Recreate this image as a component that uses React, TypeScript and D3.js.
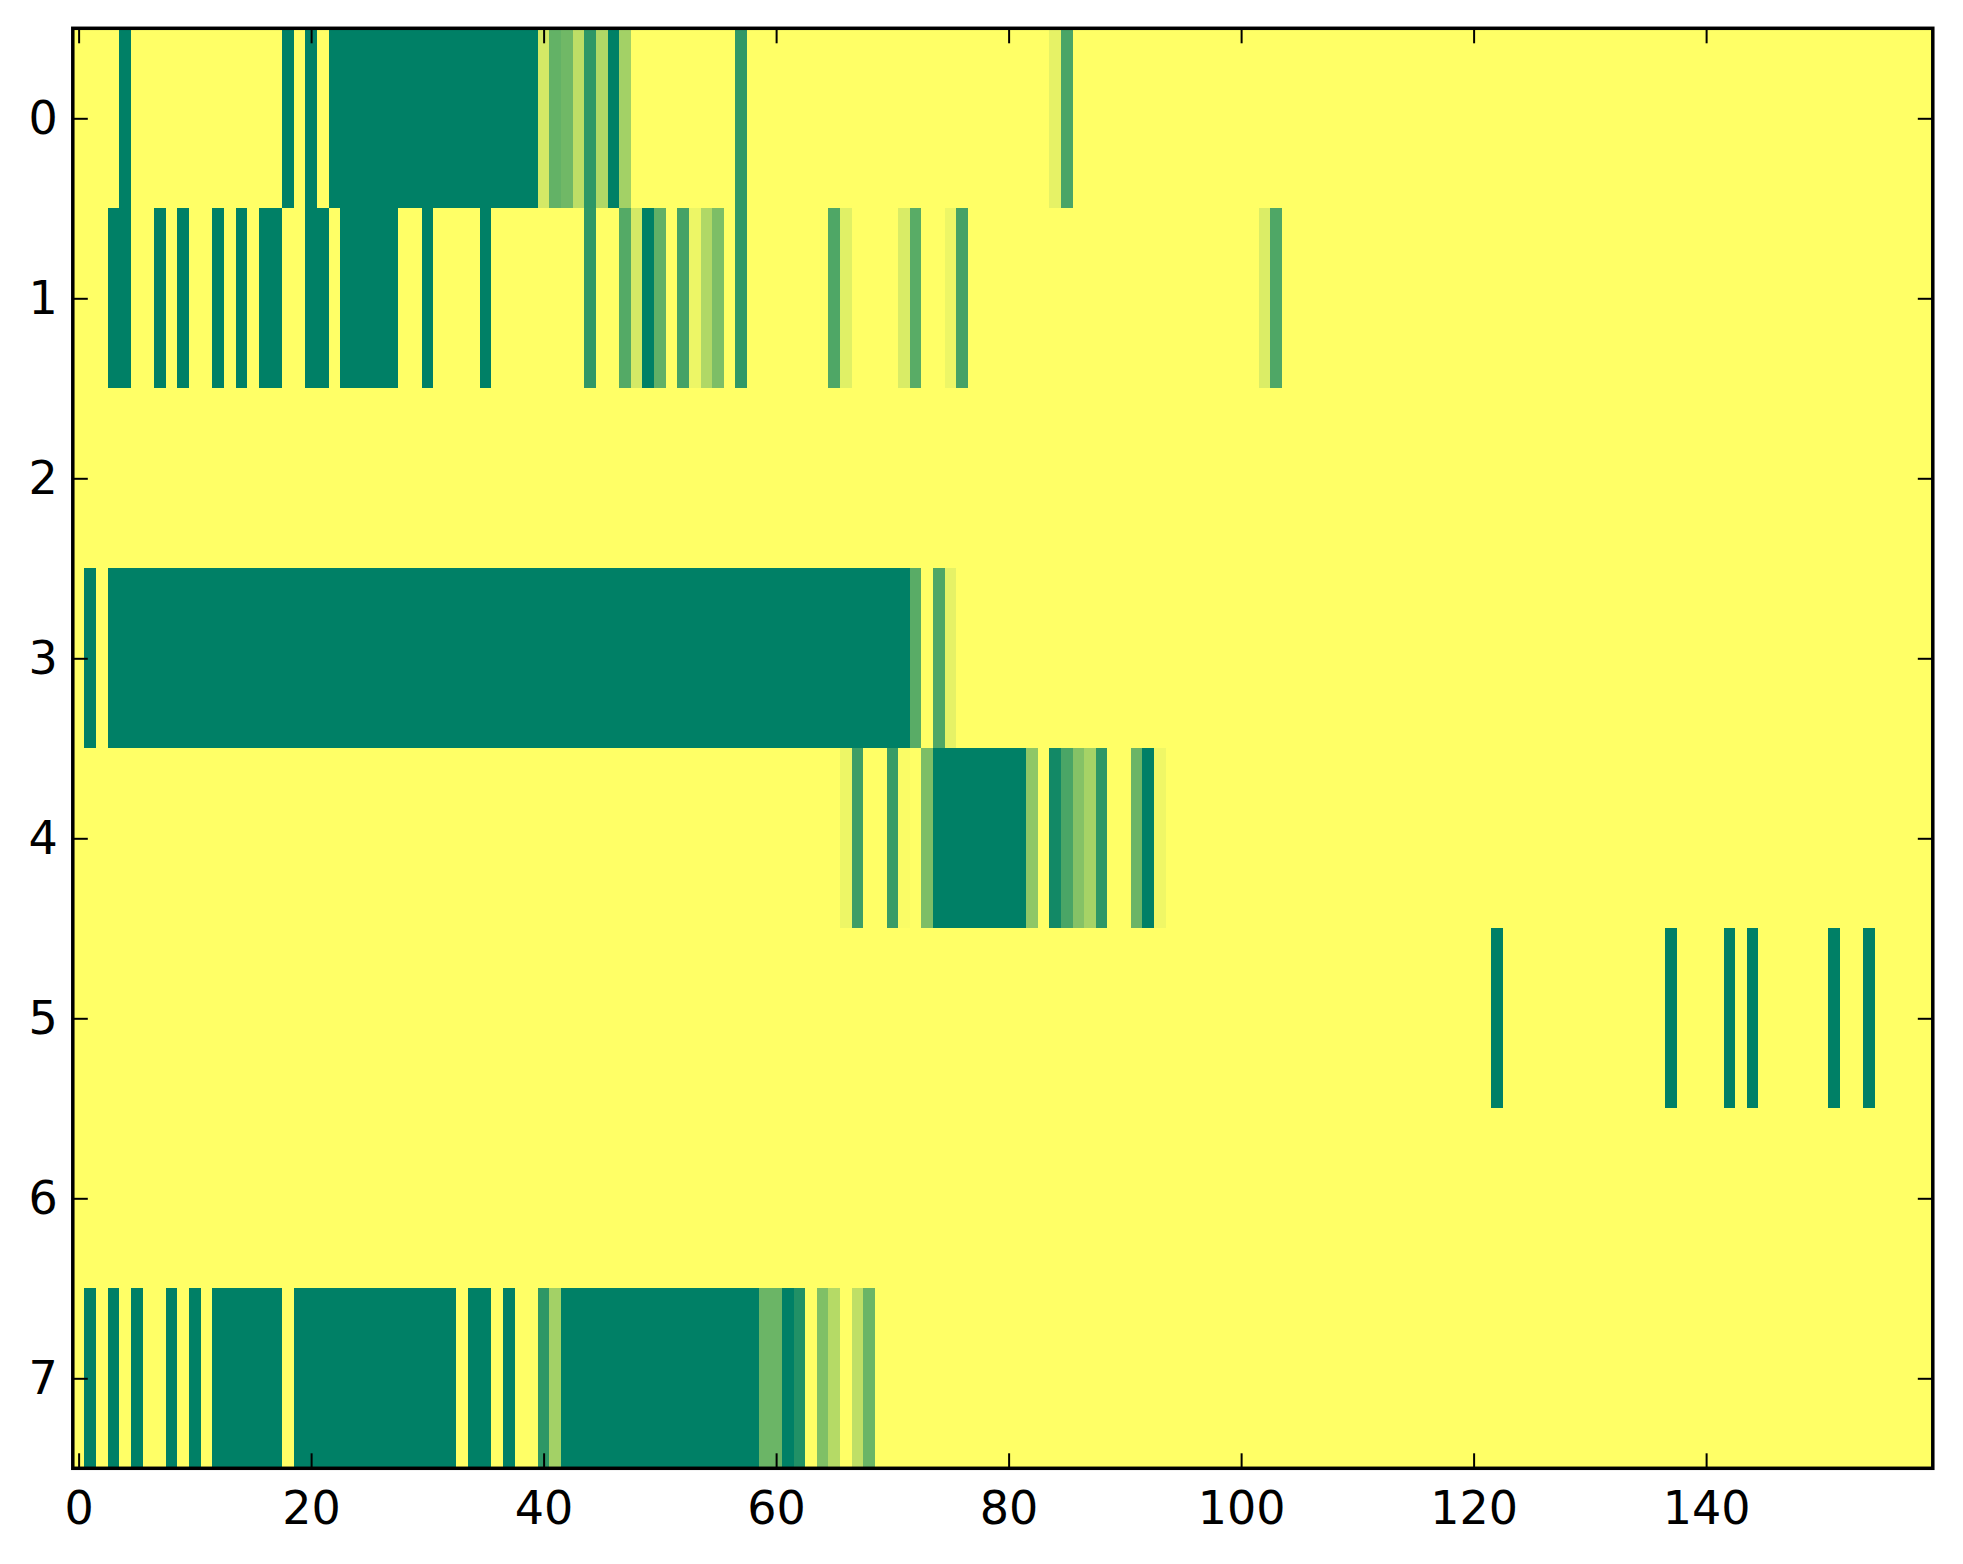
import { FC, useEffect, useRef } from 'react';
import * as d3 from 'd3';

// each row is a list of runs: [firstColumn, lastColumn, value]
const row0 = [
    [0, 3, 1], [4, 4, 0], [5, 17, 1], [18, 18, 0], [19, 19, 1], [20, 20, 0], [21, 21, 1],
    [22, 39, 0], [40, 40, 0.83], [41, 41, 0.39], [42, 42, 0.44], [43, 43, 0.74], [44, 44, 0.18],
    [45, 45, 0.69], [46, 46, 0], [47, 47, 0.64], [48, 56, 1], [57, 57, 0.19], [58, 83, 1],
    [84, 84, 0.9], [85, 85, 0.29], [86, 159, 1]
];
const row1 = [
    [0, 2, 1], [3, 4, 0], [5, 6, 1], [7, 7, 0], [8, 8, 1], [9, 9, 0], [10, 11, 1], [12, 12, 0],
    [13, 13, 1], [14, 14, 0], [15, 15, 1], [16, 17, 0], [18, 19, 1], [20, 21, 0], [22, 22, 1],
    [23, 27, 0], [28, 29, 1], [30, 30, 0], [31, 34, 1], [35, 35, 0], [36, 43, 1], [44, 44, 0.19],
    [45, 46, 1], [47, 47, 0.33], [48, 48, 0.83], [49, 49, 0], [50, 50, 0.38], [51, 51, 1],
    [52, 52, 0.27], [53, 53, 0.93], [54, 54, 0.69], [55, 55, 0.49], [56, 56, 1], [57, 57, 0.19],
    [58, 64, 1], [65, 65, 0.31], [66, 66, 0.88], [67, 70, 1], [71, 71, 0.85], [72, 72, 0.35],
    [73, 74, 1], [75, 75, 0.93], [76, 76, 0.27], [77, 101, 1], [102, 102, 0.86], [103, 103, 0.31],
    [104, 159, 1]
];
const row2 = [[0, 159, 1]];
const row3 = [
    [0, 0, 1], [1, 1, 0], [2, 2, 1], [3, 71, 0], [72, 72, 0.35], [73, 73, 1], [74, 74, 0.31],
    [75, 75, 0.9], [76, 159, 1]
];
const row4 = [
    [0, 65, 1], [66, 66, 0.93], [67, 67, 0.24], [68, 69, 1], [70, 70, 0.22], [71, 71, 0.98],
    [72, 72, 1], [73, 73, 0.49], [74, 81, 0], [82, 82, 0.56], [83, 83, 1], [84, 84, 0.07],
    [85, 85, 0.29], [86, 86, 0.52], [87, 87, 0.65], [88, 88, 0.18], [89, 90, 1], [91, 91, 0.42],
    [92, 92, 0], [93, 93, 0.94], [94, 159, 1]
];
const row5 = [
    [0, 121, 1], [122, 122, 0], [123, 136, 1], [137, 137, 0], [138, 141, 1], [142, 142, 0],
    [143, 143, 1], [144, 144, 0], [145, 150, 1], [151, 151, 0], [152, 153, 1], [154, 154, 0],
    [155, 159, 1]
];
const row6 = [[0, 159, 1]];
const row7 = [
    [0, 0, 1], [1, 1, 0], [2, 2, 1], [3, 3, 0], [4, 4, 1], [5, 5, 0], [6, 7, 1], [8, 8, 0],
    [9, 9, 1], [10, 10, 0], [11, 11, 1], [12, 17, 0], [18, 18, 1], [19, 32, 0], [33, 33, 1],
    [34, 35, 0], [36, 36, 1], [37, 37, 0], [38, 39, 1], [40, 40, 0.18], [41, 41, 0.64],
    [42, 58, 0], [59, 60, 0.42], [61, 61, 0], [62, 62, 0.13], [63, 63, 1], [64, 64, 0.5],
    [65, 65, 0.71], [66, 66, 1], [67, 67, 0.75], [68, 68, 0.42], [69, 159, 1]
];
const rows = [row0, row1, row2, row3, row4, row5, row6, row7];
const nCols = 160;
const xTicks = [0, 20, 40, 60, 80, 100, 120, 140];
const yTicks = [0, 1, 2, 3, 4, 5, 6, 7];

const App: FC = () => {
    const svgRef = useRef<SVGSVGElement>(null);

    useEffect(() => {
        const width = 1963;
        const height = 1564;
        const left = 72.8, right = 1932.8, top = 28.3, bottom = 1468.3;
        const font = "DejaVu Sans";

        const svg = d3.select(svgRef.current)
            .attr("width", width)
            .attr("height", height);
        svg.selectAll("*").remove();

        const x = d3.scaleLinear().domain([-0.5, nCols - 0.5]).range([left, right]);
        const y = d3.scaleLinear().domain([-0.5, rows.length - 0.5]).range([top, bottom]);

        // matplotlib "summer" colormap
        const color = d3.scaleLinear<string>()
            .domain([0, 1])
            .range(["#008066", "#ffff66"])
            .interpolate(d3.interpolateRgb);

        const cells = rows.flatMap((runs, r) =>
            runs.map(([a, b, v]) => ({ row: r, a, b, v })));

        svg.append("g")
            .selectAll("rect")
            .data(cells)
            .enter()
            .append("rect")
            .attr("x", d => x(d.a - 0.5))
            .attr("y", d => y(d.row - 0.5))
            .attr("width", d => x(d.b + 0.5) - x(d.a - 0.5))
            .attr("height", d => y(d.row + 0.5) - y(d.row - 0.5))
            .attr("fill", d => color(d.v))
            .attr("shape-rendering", "crispEdges");

        const tickLen = -15;
        const styleAxis = (g: any) => {
            g.select(".domain").remove();
            g.selectAll("line").attr("stroke", "#000").attr("stroke-width", 2);
            g.selectAll("text").attr("font-family", font).attr("font-size", 46).attr("fill", "#000");
        };

        svg.append("g")
            .attr("transform", `translate(0,${bottom})`)
            .call(d3.axisBottom(x).tickValues(xTicks).tickSize(tickLen).tickPadding(23).tickFormat(d3.format("d")))
            .call(styleAxis);
        svg.append("g")
            .attr("transform", `translate(0,${top})`)
            .call(d3.axisTop(x).tickValues(xTicks).tickSize(tickLen).tickFormat(() => ""))
            .call(styleAxis);
        svg.append("g")
            .attr("transform", `translate(${left},0)`)
            .call(d3.axisLeft(y).tickValues(yTicks).tickSize(tickLen).tickPadding(15).tickFormat(d3.format("d")))
            .call(styleAxis);
        svg.append("g")
            .attr("transform", `translate(${right},0)`)
            .call(d3.axisRight(y).tickValues(yTicks).tickSize(tickLen).tickFormat(() => ""))
            .call(styleAxis);

        svg.append("rect")
            .attr("x", left)
            .attr("y", top)
            .attr("width", right - left)
            .attr("height", bottom - top)
            .attr("fill", "none")
            .attr("stroke", "#000")
            .attr("stroke-width", 3.5);
    }, []);

    return (
        <div style={{ position: "absolute", left: 0, top: 0, background: "#fff" }}>
            <svg ref={svgRef} style={{ display: "block" }}></svg>
        </div>
    );
};

export default App;
